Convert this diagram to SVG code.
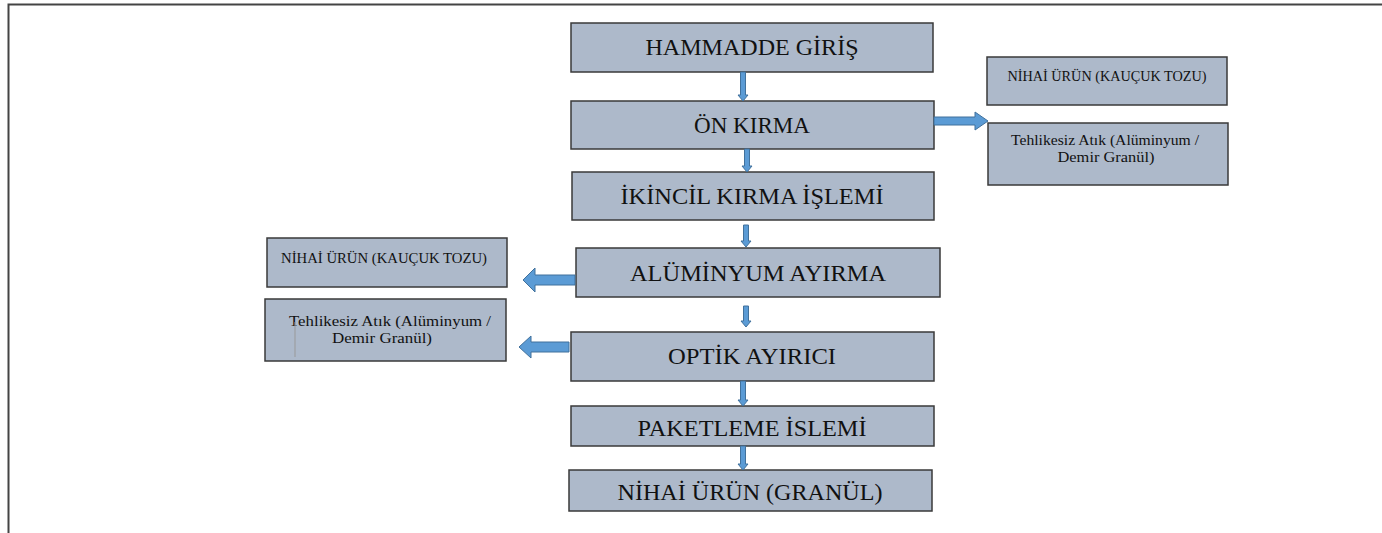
<svg xmlns="http://www.w3.org/2000/svg" width="1382" height="533" viewBox="0 0 1382 533">
<style>
.box{fill:#adb9ca;stroke:#3a3a3a;stroke-width:1.5}
text{font-family:'Liberation Serif','Times New Roman','DejaVu Serif',serif;fill:#111;text-anchor:middle}
.main{font-size:23px}
.small{font-size:14.5px}
.side{font-size:15px}
.arr{fill:#5b9bd5;stroke:#41719c;stroke-width:1}
</style>
<rect width="1382" height="533" fill="#fff"/>
<path d="M8.5,533 V4.5 H1382" fill="none" stroke="#444" stroke-width="2"/>
<g id="n1"><rect class="box" x="571" y="23" width="362" height="49"/><text class="main" x="752" y="55" textLength="213" lengthAdjust="spacingAndGlyphs">HAMMADDE GİRİŞ</text></g>
<g id="n2"><rect class="box" x="571" y="101" width="363" height="48"/><text class="main" x="752" y="133" textLength="116" lengthAdjust="spacingAndGlyphs">ÖN KIRMA</text></g>
<g id="n3"><rect class="box" x="572" y="172" width="362" height="48"/><text class="main" x="752" y="204" textLength="263" lengthAdjust="spacingAndGlyphs">İKİNCİL KIRMA İŞLEMİ</text></g>
<g id="n4"><rect class="box" x="576" y="248" width="364" height="49"/><text class="main" x="758" y="281" textLength="256" lengthAdjust="spacingAndGlyphs">ALÜMİNYUM AYIRMA</text></g>
<g id="n5"><rect class="box" x="571" y="332" width="363" height="49"/><text class="main" x="752" y="364" textLength="168" lengthAdjust="spacingAndGlyphs">OPTİK AYIRICI</text></g>
<g id="n6"><rect class="box" x="571" y="406" width="363" height="40"/><text class="main" x="752" y="436" textLength="229" lengthAdjust="spacingAndGlyphs">PAKETLEME İSLEMİ</text></g>
<g id="n7"><rect class="box" x="569" y="470" width="363" height="41"/><text class="main" x="750" y="500" textLength="265" lengthAdjust="spacingAndGlyphs">NİHAİ ÜRÜN (GRANÜL)</text></g>
<g id="r1"><rect class="box" x="987" y="57" width="240" height="48"/><text class="small" x="1107" y="81" textLength="199" lengthAdjust="spacingAndGlyphs">NİHAİ ÜRÜN (KAUÇUK TOZU)</text></g>
<g id="r2"><rect class="box" x="988" y="123" width="240" height="62"/><text class="side" x="1105" y="145" textLength="188" lengthAdjust="spacingAndGlyphs">Tehlikesiz Atık (Alüminyum /</text><text class="side" x="1106" y="162" textLength="97" lengthAdjust="spacingAndGlyphs">Demir Granül)</text></g>
<g id="l1"><rect class="box" x="267" y="238" width="240" height="49"/><text class="small" x="384" y="263" textLength="206" lengthAdjust="spacingAndGlyphs">NİHAİ ÜRÜN (KAUÇUK TOZU)</text></g>
<g id="l2"><rect class="box" x="265" y="299" width="241" height="62"/><text class="side" x="390" y="326" textLength="202" lengthAdjust="spacingAndGlyphs">Tehlikesiz Atık (Alüminyum /</text><text class="side" x="382" y="343" textLength="100" lengthAdjust="spacingAndGlyphs">Demir Granül)</text><line x1="295" y1="322" x2="295" y2="357" stroke="#999" stroke-width="1"/></g>
<g id="connectors">
<path class="arr" d="M740.5,72 H745.5 V95 H748 L743,101 L738,95 H740.5 Z"/>
<path class="arr" d="M744.5,149 H749.5 V166 H752 L747,172 L742,166 H744.5 Z"/>
<path class="arr" d="M743.5,225 H748.5 V241 H751 L746,247 L741,241 H743.5 Z"/>
<path class="arr" d="M743.5,306 H748.5 V321 H751 L746,327 L741,321 H743.5 Z"/>
<path class="arr" d="M740.5,381 H745.5 V400 H748 L743,406 L738,400 H740.5 Z"/>
<path class="arr" d="M740.5,446 H745.5 V464 H748 L743,470 L738,464 H740.5 Z"/>
<path class="arr" d="M934,117 H975 V112 L988,121 L975,130 V125 H934 Z"/>
<path class="arr" d="M575,275 H535 V268 L523,280 L535,292 V285 H575 Z"/>
<path class="arr" d="M569,342 H531 V336 L519,347 L531,358 V352 H569 Z"/>
</g>
</svg>
